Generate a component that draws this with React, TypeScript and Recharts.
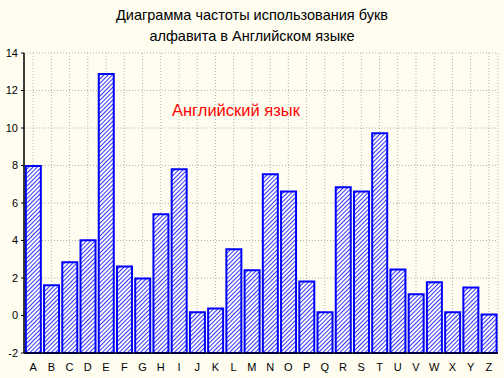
import { Bar, BarChart, CartesianGrid, XAxis, YAxis } from "recharts";

const letters = [
  "A", "B", "C", "D", "E", "F", "G", "H", "I", "J", "K", "L", "M",
  "N", "O", "P", "Q", "R", "S", "T", "U", "V", "W", "X", "Y", "Z",
];
const freq = [
  7.97, 1.61, 2.84, 4.01, 12.88, 2.62, 1.98, 5.4, 7.8, 0.17, 0.38, 3.53, 2.41,
  7.53, 6.62, 1.82, 0.17, 6.84, 6.62, 9.72, 2.46, 1.13, 1.77, 0.17, 1.5, 0.06,
];
const yTicks = [-2, 0, 2, 4, 6, 8, 10, 12, 14];
const baseline = -2;

const font = "'Liberation Sans', Arial, sans-serif";

export default function App() {
  const data = letters.map((l, i) => ({ letter: l, range: [baseline, freq[i]] }));
  return (
    <div style={{ position: "absolute", left: 0, top: 0, width: 504, height: 378, background: "#FFFDF0", fontFamily: font }}>
      <div style={{ position: "absolute", top: 5, width: 504, textAlign: "center", fontSize: 14.5, lineHeight: "21px", color: "#000" }}>
        Диаграмма частоты использования букв
        <br />
        алфавита в Английском языке
      </div>
      <div style={{ position: "absolute", top: 101, left: 172, fontSize: 16.5, color: "#FF0000" }}>Английский язык</div>
      <div style={{ position: "absolute", left: 0, top: 0 }}>
        <BarChart
          width={504}
          height={378}
          data={data}
          margin={{ top: 53, right: 6, bottom: 0, left: 0 }}
          barCategoryGap="10%"
        >
          <defs>
            <pattern id="hatch" width="3" height="3" patternUnits="userSpaceOnUse" patternTransform="rotate(45)">
              <rect width="3" height="3" fill="#FFFFFF" />
              <line x1="0" y1="0" x2="0" y2="3" stroke="#0000FF" strokeWidth="1.6" />
            </pattern>
          </defs>
          <CartesianGrid xAxisId="b" yAxisId="l" stroke="#B0B0B0" strokeDasharray="1 2" />
          <XAxis
            xAxisId="b"
            dataKey="letter"
            height={25}
            interval={0}
            tickLine={false}
            axisLine={{ stroke: "#000", strokeWidth: 1.5 }}
            tick={{ fill: "#000", fontSize: 11, fontFamily: font }}
            tickMargin={4}
          />
          <XAxis
            xAxisId="t"
            dataKey="letter"
            orientation="top"
            height={0}
            mirror
            interval={0}
            tickSize={3}
            tickFormatter={() => ""}
            axisLine={{ stroke: "#000", strokeWidth: 1.5 }}
            tickLine={{ stroke: "#000" }}
          />
          <YAxis
            yAxisId="l"
            width={24}
            domain={[-2, 14]}
            ticks={yTicks}
            interval={0}
            tickSize={3}
            tickMargin={3}
            axisLine={{ stroke: "#000", strokeWidth: 1.5 }}
            tickLine={{ stroke: "#000" }}
            tick={{ fill: "#000", fontSize: 11, fontFamily: font }}
          />
          <YAxis
            yAxisId="r"
            orientation="right"
            width={0}
            mirror
            domain={[-2, 14]}
            ticks={yTicks}
            interval={0}
            tickSize={4}
            tickFormatter={() => ""}
            axisLine={{ stroke: "#000", strokeWidth: 1.5 }}
            tickLine={{ stroke: "#000" }}
          />
          <Bar
            xAxisId="b"
            yAxisId="l"
            dataKey="range"
            fill="url(#hatch)"
            stroke="#0000FF"
            strokeWidth={2}
            isAnimationActive={false}
          />
        </BarChart>
      </div>
    </div>
  );
}
